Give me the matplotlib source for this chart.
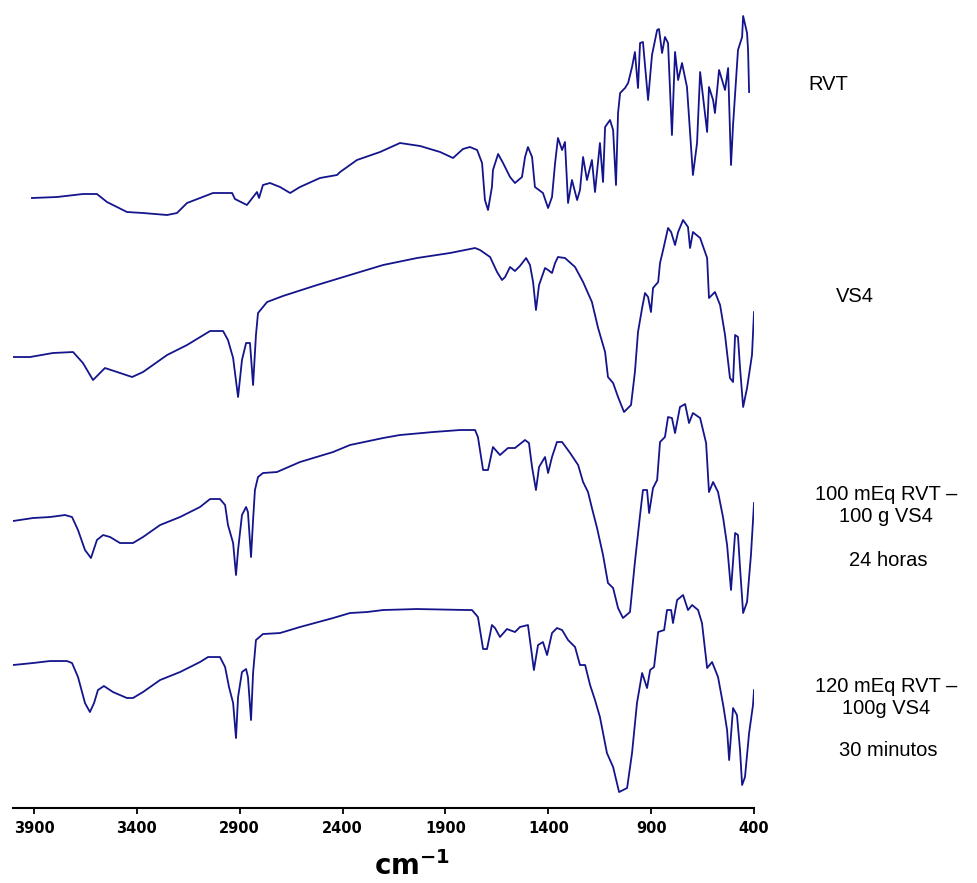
import matplotlib
matplotlib.use("Agg")
import matplotlib.pyplot as plt

# espectros FTIR (cm-1, transmitancia en u.a. con desplazamiento)
wn_rvt = [3910, 3788, 3662, 3594, 3545, 3448, 3370, 3253, 3205, 3156, 3030, 2937, 2923, 2865, 2816,
          2806, 2787, 2753, 2704, 2655, 2607, 2510, 2427, 2412, 2330, 2218, 2121, 2023, 1926, 1863,
          1815, 1781, 1746, 1722, 1708, 1693, 1674, 1669, 1644, 1620, 1586, 1562, 1528, 1513, 1499,
          1479, 1465, 1426, 1401, 1382, 1367, 1353, 1333, 1319, 1304, 1285, 1260, 1246, 1231, 1212,
          1188, 1173, 1149, 1134, 1124, 1100, 1085, 1071, 1061, 1051, 1027, 1012, 993, 979, 964,
          954, 940, 915, 896, 871, 862, 847, 833, 818, 799, 784, 769, 750, 726, 697,
          677, 662, 628, 619, 599, 590, 570, 541, 526, 512, 502, 478, 458, 453, 434,
          429, 424]
t_rvt = [610, 611, 614, 614, 606, 596, 595, 593, 595, 605, 615, 615, 609, 603, 616,
         610, 623, 625, 621, 615, 621, 630, 633, 636, 648, 656, 665, 662, 656, 650,
         659, 661, 658, 645, 608, 598, 621, 638, 654, 645, 631, 625, 631, 651, 661,
         651, 621, 615, 600, 611, 645, 670, 658, 666, 605, 628, 608, 618, 651, 628,
         648, 616, 665, 626, 681, 688, 678, 623, 695, 715, 720, 725, 741, 756, 720,
         765, 766, 708, 753, 778, 779, 755, 771, 765, 673, 756, 728, 745, 721, 633,
         665, 736, 676, 721, 708, 695, 738, 718, 740, 643, 683, 758, 771, 792, 775,
         758, 716]

wn_vs4 = [4002, 3919, 3808, 3710, 3662, 3613, 3555, 3496, 3423, 3370, 3253, 3156, 3044, 2981, 2957,
          2932, 2908, 2889, 2869, 2850, 2835, 2821, 2811, 2767, 2690, 2524, 2364, 2203, 2038, 1878,
          1756, 1732, 1683, 1649, 1625, 1610, 1586, 1562, 1538, 1508, 1489, 1474, 1460, 1445, 1416,
          1401, 1382, 1367, 1353, 1319, 1270, 1231, 1188, 1158, 1124, 1110, 1085, 1061, 1032, 998,
          979, 964, 944, 930, 915, 901, 891, 866, 857, 842, 818, 803, 784, 769, 745,
          721, 711, 697, 662, 628, 619, 590, 565, 541, 517, 502, 492, 478, 468, 453,
          434, 410, 400]
t_vs4 = [451, 451, 455, 456, 445, 428, 440, 436, 431, 436, 453, 463, 477, 477, 468,
         450, 411, 448, 465, 465, 423, 473, 495, 506, 512, 523, 533, 543, 550, 555,
         560, 558, 551, 536, 528, 531, 541, 537, 542, 550, 543, 526, 498, 523, 540,
         538, 535, 545, 551, 550, 541, 526, 506, 480, 456, 431, 425, 411, 396, 403,
         436, 476, 500, 515, 511, 496, 520, 526, 545, 558, 580, 576, 563, 576, 588,
         581, 560, 576, 570, 550, 510, 516, 503, 473, 430, 426, 473, 471, 440, 401,
         420, 453, 496]

wn_24h = [4002, 3905, 3822, 3749, 3715, 3686, 3652, 3623, 3594, 3564, 3530, 3482, 3419, 3370, 3287,
          3190, 3093, 3044, 2996, 2971, 2957, 2932, 2918, 2908, 2889, 2869, 2860, 2845, 2835, 2826,
          2811, 2787, 2719, 2607, 2446, 2364, 2203, 2121, 1960, 1829, 1756, 1742, 1717, 1693, 1669,
          1635, 1596, 1562, 1513, 1494, 1479, 1460, 1445, 1416, 1401, 1382, 1358, 1333, 1294, 1255,
          1231, 1207, 1188, 1163, 1134, 1110, 1085, 1061, 1037, 1003, 979, 954, 940, 920, 910,
          891, 871, 857, 833, 818, 799, 784, 760, 735, 716, 697, 662, 633, 619, 599,
          575, 550, 531, 512, 492, 478, 468, 453, 434, 415, 400]
t_24h = [287, 290, 291, 293, 291, 278, 258, 250, 268, 273, 271, 265, 265, 271, 283,
         291, 301, 309, 309, 303, 283, 265, 233, 258, 293, 301, 296, 251, 288, 318,
         331, 335, 336, 346, 356, 363, 370, 373, 376, 378, 378, 371, 338, 338, 361,
         353, 360, 360, 368, 365, 341, 318, 341, 351, 335, 351, 366, 366, 355, 343,
         326, 316, 300, 280, 253, 225, 220, 200, 190, 196, 246, 293, 318, 318, 295,
         320, 328, 366, 371, 391, 390, 375, 401, 404, 385, 395, 390, 365, 316, 326,
         316, 290, 263, 218, 275, 273, 240, 195, 206, 253, 305]

wn_30m = [4002, 3905, 3822, 3740, 3715, 3686, 3652, 3628, 3608, 3589, 3560, 3516, 3448, 3419, 3370,
          3287, 3190, 3093, 3054, 2996, 2971, 2952, 2932, 2918, 2908, 2889, 2869, 2860, 2845, 2835,
          2821, 2787, 2704, 2607, 2446, 2364, 2281, 2203, 2038, 1795, 1771, 1742, 1717, 1698, 1674,
          1659, 1635, 1601, 1562, 1538, 1499, 1484, 1470, 1450, 1426, 1406, 1382, 1358, 1333, 1304,
          1270, 1246, 1221, 1197, 1173, 1149, 1115, 1085, 1056, 1017, 993, 969, 944, 920, 905,
          886, 866, 837, 823, 803, 794, 774, 745, 721, 701, 672, 653, 628, 604, 575,
          550, 531, 521, 502, 483, 468, 458, 444, 424, 405, 400]
t_30m = [143, 145, 147, 147, 145, 131, 105, 96, 105, 118, 122, 116, 110, 110, 116,
         128, 136, 146, 151, 151, 141, 121, 105, 70, 111, 136, 139, 131, 88, 135,
         168, 174, 175, 181, 190, 195, 196, 198, 199, 198, 198, 191, 159, 159, 183,
         180, 171, 179, 176, 181, 183, 160, 138, 163, 166, 153, 175, 180, 178, 168,
         161, 143, 143, 123, 108, 91, 55, 41, 16, 20, 55, 105, 135, 120, 138,
         141, 176, 178, 198, 198, 185, 208, 213, 198, 203, 198, 185, 140, 146, 131,
         103, 78, 48, 100, 93, 58, 23, 31, 75, 103, 118]

spectra = [(wn_rvt, t_rvt), (wn_vs4, t_vs4), (wn_24h, t_24h), (wn_30m, t_30m)]

fig = plt.figure(figsize=(9.78, 8.83), dpi=100)
ax = fig.add_axes([0.0137, 0.0849, 0.7573, 0.9151])

for wn, t in spectra:
    ax.plot(wn, t, color='#14148c', lw=1.3)

ax.set_xlim(4000, 400)
ax.set_ylim(0, 808)
ax.set_xticks([3900, 3400, 2900, 2400, 1900, 1400, 900, 400])
ax.set_yticks([])
for s in ['top', 'left', 'right']:
    ax.spines[s].set_visible(False)
ax.spines['bottom'].set_linewidth(1.5)
ax.tick_params(axis='x', direction='out', length=4, width=1.3, pad=5, labelsize=10.5)
for lbl in ax.get_xticklabels():
    lbl.set_fontweight('bold')

fig.text(412 / 978, 1 - 866 / 883, r'$\mathbf{cm^{-1}}$', fontsize=20, ha='center', va='center')

# etiquetas de cada espectro
kw = dict(fontsize=14.5, family='Liberation Sans', ha='center', va='center')
fig.text(828 / 978, 1 - 84 / 883, 'RVT', **kw)
fig.text(855 / 978, 1 - 297 / 883, 'VS4', **kw)
fig.text(886 / 978, 1 - 505 / 883, '100 mEq RVT –\n100 g VS4', linespacing=1.2, **kw)
fig.text(888 / 978, 1 - 561 / 883, '24 horas', **kw)
fig.text(886 / 978, 1 - 698 / 883, '120 mEq RVT –\n100g VS4', linespacing=1.2, **kw)
fig.text(888 / 978, 1 - 750 / 883, '30 minutos', **kw)

plt.savefig('out.png', dpi=100)
